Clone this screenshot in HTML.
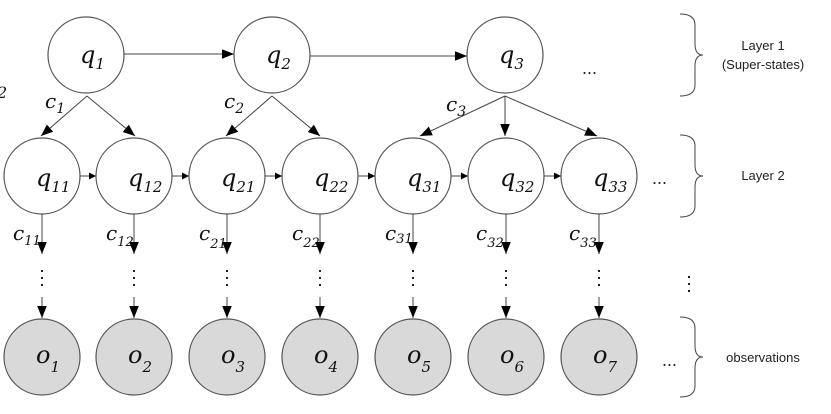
<!DOCTYPE html>
<html><head><meta charset="utf-8"><style>
html,body{margin:0;padding:0;background:#fff;}
svg{display:block;}
.m{font-family:"DejaVu Serif","Liberation Serif",serif;font-style:italic;fill:#111;}
.s{font-family:"Liberation Sans",sans-serif;fill:#222;}
</style></head><body>
<svg width="831" height="414" viewBox="0 0 831 414" xmlns="http://www.w3.org/2000/svg">
<defs><marker id="a" viewBox="0 0 10 10" refX="10" refY="5" markerWidth="7" markerHeight="7" orient="auto" markerUnits="userSpaceOnUse"><path d="M0,0L10,5L0,10z" fill="#000"/></marker>
<marker id="b" viewBox="0 0 10 10" refX="10" refY="5" markerWidth="12" markerHeight="12" orient="auto" markerUnits="userSpaceOnUse"><path d="M0,1L10,5L0,9z" fill="#000"/></marker></defs>
<g stroke="#555" stroke-width="1.2" fill="#fff">
<circle cx="86" cy="55" r="38"/><circle cx="272" cy="55" r="38"/><circle cx="505" cy="55" r="38"/>
<circle cx="42" cy="176" r="38"/><circle cx="134" cy="176" r="38"/><circle cx="227" cy="176" r="38"/><circle cx="320" cy="176" r="38"/><circle cx="413" cy="176" r="38"/><circle cx="506" cy="176" r="38"/><circle cx="599" cy="176" r="38"/>
<g fill="#d9d9d9"><circle cx="42" cy="357" r="38"/><circle cx="134" cy="357" r="38"/><circle cx="227" cy="357" r="38"/><circle cx="320" cy="357" r="38"/><circle cx="413" cy="357" r="38"/><circle cx="506" cy="357" r="38"/><circle cx="599" cy="357" r="38"/></g>
</g>
<g stroke="#444" stroke-width="1" fill="none" marker-end="url(#b)">
<line x1="124" y1="54" x2="234" y2="54"/><line x1="310" y1="56" x2="467" y2="56"/>
<line x1="87" y1="96" x2="41" y2="136"/><line x1="87" y1="96" x2="135" y2="136"/>
<line x1="272" y1="96" x2="226" y2="136"/><line x1="272" y1="96" x2="320" y2="136"/>
<line x1="505" y1="96" x2="420" y2="136"/><line x1="505" y1="96" x2="505" y2="136"/><line x1="505" y1="96" x2="597" y2="136"/>
</g>
<g stroke="#444" stroke-width="1" marker-end="url(#a)">
<line x1="80" y1="176" x2="96" y2="176"/><line x1="172" y1="176" x2="189" y2="176"/><line x1="265" y1="176" x2="282" y2="176"/><line x1="358" y1="176" x2="375" y2="176"/><line x1="451" y1="176" x2="468" y2="176"/><line x1="544" y1="176" x2="561" y2="176"/>
</g>
<g stroke="#444" stroke-width="1" marker-end="url(#b)">
<line x1="42" y1="214" x2="42" y2="254"/><line x1="134" y1="214" x2="134" y2="254"/><line x1="227" y1="214" x2="227" y2="254"/><line x1="320" y1="214" x2="320" y2="254"/><line x1="413" y1="214" x2="413" y2="254"/><line x1="506" y1="214" x2="506" y2="254"/><line x1="599" y1="214" x2="599" y2="254"/>
<line x1="42" y1="297" x2="42" y2="318"/><line x1="134" y1="297" x2="134" y2="318"/><line x1="227" y1="297" x2="227" y2="318"/><line x1="320" y1="297" x2="320" y2="318"/><line x1="413" y1="297" x2="413" y2="318"/><line x1="506" y1="297" x2="506" y2="318"/><line x1="599" y1="297" x2="599" y2="318"/>
</g>
<g fill="#222">
<g id="d"><rect x="41" y="270" width="2" height="2"/><rect x="41" y="277" width="2" height="2"/><rect x="41" y="284" width="2" height="2"/></g>
<use href="#d" x="92"/><use href="#d" x="185"/><use href="#d" x="278"/><use href="#d" x="371"/><use href="#d" x="464"/><use href="#d" x="557"/><use href="#d" x="647" y="6"/>
</g>
<g class="m" font-size="24">
<text x="80" y="63">q<tspan font-size="15" dy="6">1</tspan></text>
<text x="266" y="63">q<tspan font-size="15" dy="6">2</tspan></text>
<text x="499" y="63">q<tspan font-size="15" dy="6">3</tspan></text>
<text x="36" y="186">q<tspan font-size="15" dy="6">11</tspan></text>
<text x="128" y="186">q<tspan font-size="15" dy="6">12</tspan></text>
<text x="221" y="186">q<tspan font-size="15" dy="6">21</tspan></text>
<text x="314" y="186">q<tspan font-size="15" dy="6">22</tspan></text>
<text x="407" y="186">q<tspan font-size="15" dy="6">31</tspan></text>
<text x="500" y="186">q<tspan font-size="15" dy="6">32</tspan></text>
<text x="593" y="186">q<tspan font-size="15" dy="6">33</tspan></text>
<text x="36" y="363">o<tspan font-size="15" dy="9">1</tspan></text>
<text x="128" y="363">o<tspan font-size="15" dy="9">2</tspan></text>
<text x="221" y="363">o<tspan font-size="15" dy="9">3</tspan></text>
<text x="314" y="363">o<tspan font-size="15" dy="9">4</tspan></text>
<text x="407" y="363">o<tspan font-size="15" dy="9">5</tspan></text>
<text x="500" y="363">o<tspan font-size="15" dy="9">6</tspan></text>
<text x="593" y="363">o<tspan font-size="15" dy="9">7</tspan></text>
</g>
<g class="m" font-size="20">
<text x="45" y="108">c<tspan font-size="14" dy="5">1</tspan></text>
<text x="224" y="108">c<tspan font-size="14" dy="5">2</tspan></text>
<text x="446" y="111">c<tspan font-size="14" dy="5">3</tspan></text>
<text x="13" y="240">c<tspan font-size="13" dy="5">11</tspan></text>
<text x="106" y="240">c<tspan font-size="13" dy="6">12</tspan></text>
<text x="199" y="240">c<tspan font-size="13" dy="8">21</tspan></text>
<text x="292" y="240">c<tspan font-size="13" dy="7">22</tspan></text>
<text x="385" y="240">c<tspan font-size="13" dy="3">31</tspan></text>
<text x="476" y="240">c<tspan font-size="13" dy="7">32</tspan></text>
<text x="569" y="240">c<tspan font-size="13" dy="7">33</tspan></text>
</g>
<g class="s" font-size="18"><text x="582" y="74">...</text><text x="652" y="184">...</text><text x="662" y="366">...</text></g>
<g stroke="#444" stroke-width="1" fill="none">
<path d="M680,14 Q695,14 695,25 L695,44 Q695,55 703,55 Q695,55 695,66 L695,85 Q695,96 680,96"/>
<path d="M680,135 Q695,135 695,146 L695,165 Q695,176 703,176 Q695,176 695,187 L695,206 Q695,217 680,217"/>
<path d="M680,317 Q695,317 695,328 L695,346 Q695,357 703,357 Q695,357 695,368 L695,386 Q695,397 680,397"/>
</g>
<g class="s" font-size="13" text-anchor="middle">
<text x="763" y="50">Layer 1</text><text x="763" y="69">(Super-states)</text>
<text x="763" y="180">Layer 2</text>
<text x="763" y="362">observations</text>
</g>
<text x="-3" y="98" class="m" font-size="16">2</text>
</svg>
</body></html>
